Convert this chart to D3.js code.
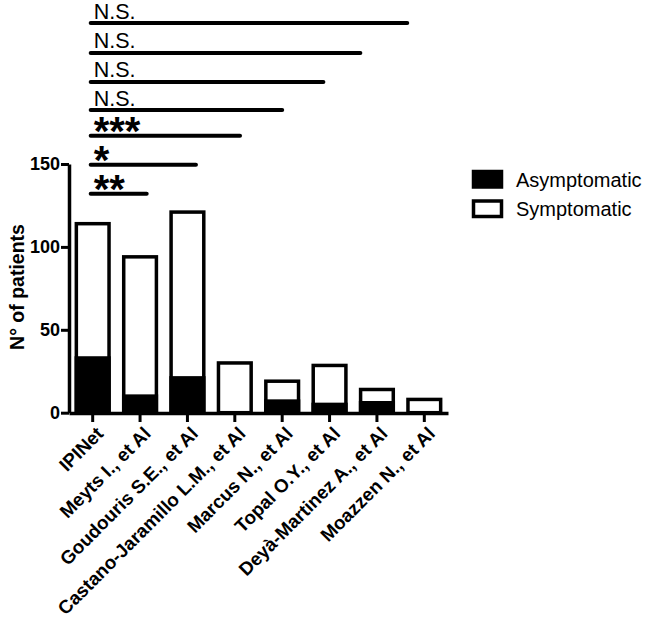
<!DOCTYPE html>
<html><head><meta charset="utf-8">
<script src="https://cdn.jsdelivr.net/npm/d3@7"></script>
<style>body{margin:0;background:#fff}svg{display:block}text{font-family:Arial,"Liberation Sans",sans-serif}</style>
</head><body><svg id="c" width="645" height="624"></svg>
<script>
const categories = ["IPINet","Meyts I., et Al","Goudouris S.E., et Al","Castano-Jaramillo L.M., et Al","Marcus N., et Al","Topal O.Y., et Al","Deyà-Martinez A., et Al","Moazzen N., et Al"];
const asymptomatic = [33, 10, 21, 0, 7, 5, 6, 0];
const symptomatic = [81, 84, 100, 30, 12, 23.5, 8, 8];
const yTicks = [0, 50, 100, 150];
const sigLabels = ["**", "*", "***", "N.S.", "N.S.", "N.S.", "N.S."];
const sigEnd = [1.14, 2.18, 3.11, 4.0, 4.87, 5.65, 6.64];
const sigLevel = [132, 149.5, 167, 182.5, 199.5, 217, 235];
const legendLabels = ["Asymptomatic", "Symptomatic"];

const FONT = "Arial, Liberation Sans, sans-serif";
const svg = d3.select("#c");
const x = d3.scaleBand().domain(categories).range([69, 448]).paddingInner(0.31).paddingOuter(0.155);
const y = d3.scaleLinear().domain([0, 150]).range([412.7, 164]);
const idx = d3.scaleLinear().domain([0, 1]).range([x(categories[0]) + x.bandwidth()/2, x(categories[1]) + x.bandwidth()/2]);

// bars
const g = svg.append("g");
categories.forEach((c, i) => {
  const a = asymptomatic[i], s = symptomatic[i];
  g.append("rect").attr("x", x(c)).attr("width", x.bandwidth())
    .attr("y", y(a + s)).attr("height", y(0) - y(a + s))
    .attr("fill", "#fff").attr("stroke", "#000").attr("stroke-width", 3.5);
  if (a > 0) g.append("rect").attr("x", x(c)).attr("width", x.bandwidth())
    .attr("y", y(a)).attr("height", y(0) - y(a))
    .attr("fill", "#000").attr("stroke", "#000").attr("stroke-width", 3.5);
});

// y axis
const ya = svg.append("g").attr("transform", "translate(69,0)")
  .call(d3.axisLeft(y).tickValues(yTicks).tickSize(8).tickSizeOuter(0).tickPadding(1));
ya.select(".domain").attr("stroke-width", 3.5);
ya.selectAll(".tick line").attr("stroke-width", 3);
ya.selectAll("text").attr("font-size", 18).attr("font-weight", "bold").attr("fill", "#000").attr("font-family", FONT);

// x axis
const xa = svg.append("g").attr("transform", "translate(0,413)")
  .call(d3.axisBottom(x).tickSize(9).tickSizeOuter(0).tickPadding(4));
xa.select(".domain").attr("stroke-width", 3.5);
xa.selectAll(".tick line").attr("stroke-width", 3);
xa.selectAll("text").attr("font-size", 18.8).attr("font-weight", "bold").attr("fill", "#000")
  .attr("font-family", FONT)
  .attr("text-anchor", "end").attr("dy", "0.35em")
  .attr("transform", "translate(-2,8) rotate(-45)");

// y label
svg.append("text").attr("transform", "translate(24,287) rotate(-90)")
  .attr("text-anchor", "middle").attr("font-size", 19.5).attr("font-weight", "bold").text("N° of patients");

// significance bars
sigLabels.forEach((lab, i) => {
  const yy = y(sigLevel[i]);
  svg.append("line").attr("x1", idx(0) - 2).attr("x2", idx(sigEnd[i]))
    .attr("y1", yy).attr("y2", yy).attr("stroke", "#000").attr("stroke-width", 4).attr("stroke-linecap", "round");
  const isNS = lab === "N.S.";
  svg.append("text").attr("x", idx(0) + 1).attr("y", isNS ? yy - 4.5 : yy + 9)
    .attr("font-size", isNS ? 21.5 : 40).attr("font-weight", isNS ? "normal" : "bold")
    .text(lab);
});

// legend
legendLabels.forEach((lab, i) => {
  const ly = 170 + i * 29.5;
  svg.append("rect").attr("x", 473.5).attr("y", ly + 1.5).attr("width", 28).attr("height", 15.5)
    .attr("fill", i === 0 ? "#000" : "#fff").attr("stroke", "#000").attr("stroke-width", 3.5);
  svg.append("text").attr("x", 516).attr("y", ly + 16.5).attr("font-size", 20).text(lab);
});
</script></body></html>
